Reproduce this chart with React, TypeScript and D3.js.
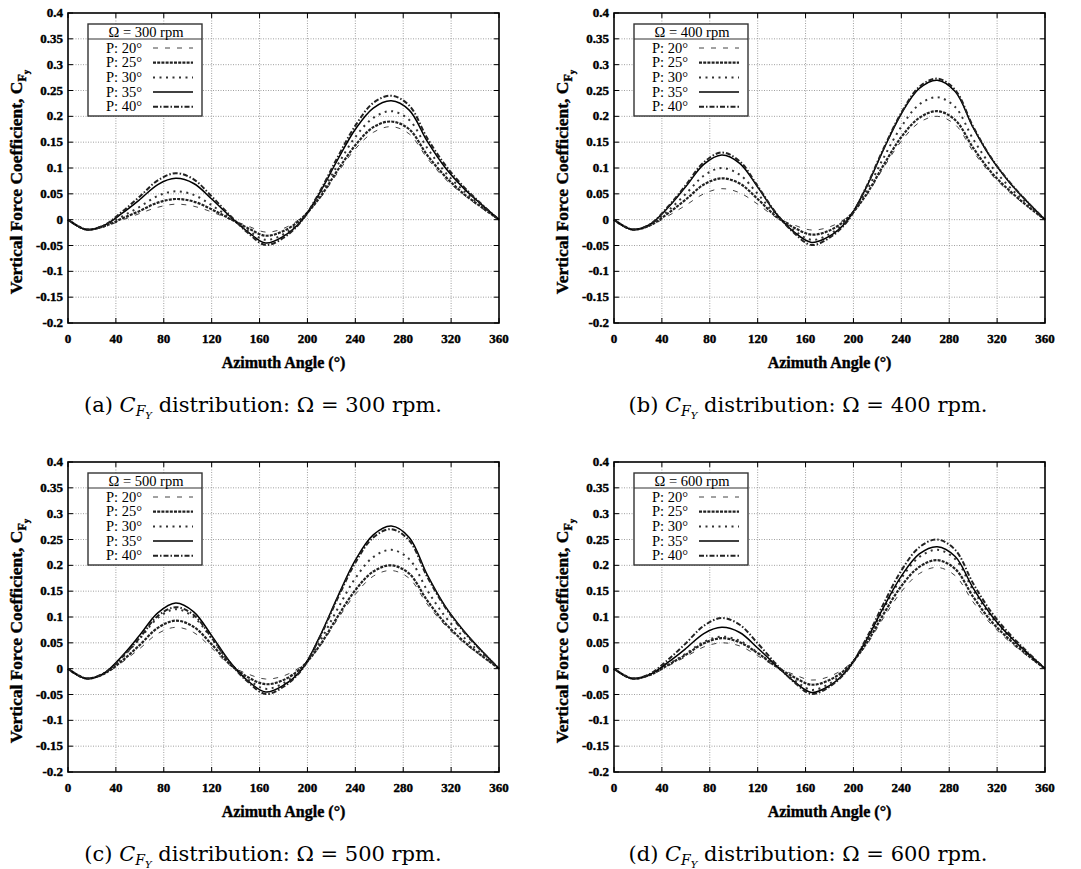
import React from 'react';
import * as d3 from 'd3';

// Azimuth angles (deg) at which values were read
const angles = [0, 15, 30, 45, 60, 75, 90, 105, 120, 135, 150, 165, 180, 195, 210, 225, 240, 255, 270, 285, 300, 315, 330, 345, 360];

const xTicks = [0, 40, 80, 120, 160, 200, 240, 280, 320, 360];
const yTicks = [-0.2, -0.15, -0.1, -0.05, 0, 0.05, 0.1, 0.15, 0.2, 0.25, 0.3, 0.35, 0.4];
const yTickLabels = ['-0.2', '-0.15', '-0.1', '-0.05', '0', '0.05', '0.1', '0.15', '0.2', '0.25', '0.3', '0.35', '0.4'];
const seriesNames = ['P: 20°', 'P: 25°', 'P: 30°', 'P: 35°', 'P: 40°'];

// Ω = 300 rpm
const rpm300_P20 = [0, -0.019, -0.014, -0.001, 0.012, 0.024, 0.03, 0.026, 0.015, 0.001, -0.012, -0.024, -0.017, 0.004, 0.040, 0.090, 0.137, 0.169, 0.18, 0.166, 0.119, 0.079, 0.049, 0.023, 0];
const rpm300_P25 = [0, -0.019, -0.013, 0.002, 0.017, 0.033, 0.04, 0.035, 0.02, 0.002, -0.016, -0.031, -0.022, 0.002, 0.042, 0.095, 0.144, 0.179, 0.19, 0.175, 0.125, 0.084, 0.051, 0.025, 0];
const rpm300_P30 = [0, -0.019, -0.012, 0.006, 0.025, 0.046, 0.055, 0.048, 0.028, 0.004, -0.02, -0.039, -0.028, 0.0, 0.046, 0.105, 0.160, 0.197, 0.21, 0.193, 0.139, 0.092, 0.057, 0.027, 0];
const rpm300_P35 = [0, -0.019, -0.011, 0.012, 0.039, 0.068, 0.08, 0.070, 0.04, 0.007, -0.023, -0.045, -0.032, -0.002, 0.051, 0.115, 0.175, 0.216, 0.23, 0.212, 0.152, 0.101, 0.062, 0.030, 0];
const rpm300_P40 = [0, -0.019, -0.011, 0.015, 0.045, 0.076, 0.09, 0.078, 0.045, 0.009, -0.025, -0.049, -0.035, -0.003, 0.053, 0.12, 0.182, 0.226, 0.24, 0.221, 0.158, 0.106, 0.065, 0.031, 0];

// Ω = 400 rpm
const rpm400_P20 = [0, -0.019, -0.012, 0.007, 0.028, 0.050, 0.06, 0.052, 0.03, 0.005, -0.01, -0.020, -0.014, 0.005, 0.044, 0.1, 0.152, 0.188, 0.2, 0.184, 0.132, 0.088, 0.054, 0.026, 0];
const rpm400_P25 = [0, -0.019, -0.011, 0.012, 0.039, 0.068, 0.08, 0.070, 0.04, 0.007, -0.015, -0.029, -0.021, 0.003, 0.046, 0.105, 0.160, 0.197, 0.21, 0.193, 0.139, 0.092, 0.057, 0.027, 0];
const rpm400_P30 = [0, -0.019, -0.010, 0.017, 0.05, 0.085, 0.1, 0.087, 0.05, 0.01, -0.02, -0.039, -0.028, 0.0, 0.052, 0.119, 0.180, 0.223, 0.237, 0.218, 0.156, 0.104, 0.064, 0.031, 0];
const rpm400_P35 = [0, -0.019, -0.009, 0.023, 0.064, 0.107, 0.125, 0.109, 0.063, 0.013, -0.023, -0.044, -0.032, -0.001, 0.059, 0.135, 0.205, 0.254, 0.27, 0.248, 0.178, 0.119, 0.073, 0.035, 0];
const rpm400_P40 = [0, -0.019, -0.009, 0.025, 0.067, 0.111, 0.13, 0.113, 0.065, 0.014, -0.025, -0.049, -0.035, -0.003, 0.060, 0.137, 0.207, 0.257, 0.273, 0.251, 0.180, 0.120, 0.074, 0.035, 0];

// Ω = 500 rpm
const rpm500_P20 = [0, -0.019, -0.011, 0.012, 0.039, 0.068, 0.08, 0.070, 0.04, 0.007, -0.01, -0.020, -0.014, 0.005, 0.042, 0.095, 0.144, 0.179, 0.19, 0.175, 0.125, 0.084, 0.051, 0.025, 0];
const rpm500_P25 = [0, -0.019, -0.010, 0.015, 0.046, 0.079, 0.093, 0.081, 0.047, 0.009, -0.016, -0.030, -0.022, 0.002, 0.044, 0.1, 0.152, 0.188, 0.2, 0.184, 0.132, 0.088, 0.054, 0.026, 0];
const rpm500_P30 = [0, -0.019, -0.009, 0.021, 0.058, 0.098, 0.115, 0.100, 0.058, 0.012, -0.02, -0.039, -0.028, 0.0, 0.051, 0.115, 0.175, 0.216, 0.23, 0.212, 0.152, 0.101, 0.062, 0.030, 0];
const rpm500_P35 = [0, -0.019, -0.009, 0.024, 0.065, 0.108, 0.127, 0.110, 0.064, 0.014, -0.023, -0.045, -0.032, -0.002, 0.061, 0.138, 0.210, 0.259, 0.276, 0.254, 0.182, 0.121, 0.075, 0.036, 0];
const rpm500_P40 = [0, -0.019, -0.009, 0.022, 0.060, 0.102, 0.119, 0.104, 0.060, 0.012, -0.025, -0.049, -0.035, -0.003, 0.059, 0.135, 0.205, 0.254, 0.27, 0.248, 0.178, 0.119, 0.073, 0.035, 0];

// Ω = 600 rpm
const rpm600_P20 = [0, -0.019, -0.013, 0.005, 0.023, 0.042, 0.05, 0.044, 0.025, 0.004, -0.011, -0.022, -0.015, 0.005, 0.043, 0.098, 0.149, 0.184, 0.196, 0.180, 0.129, 0.086, 0.053, 0.025, 0];
const rpm600_P25 = [0, -0.019, -0.012, 0.007, 0.027, 0.049, 0.059, 0.051, 0.030, 0.005, -0.016, -0.031, -0.022, 0.002, 0.046, 0.105, 0.160, 0.197, 0.21, 0.193, 0.139, 0.092, 0.057, 0.027, 0];
const rpm600_P30 = [0, -0.019, -0.012, 0.008, 0.029, 0.052, 0.062, 0.054, 0.031, 0.005, -0.021, -0.041, -0.029, 0.0, 0.051, 0.115, 0.175, 0.216, 0.23, 0.212, 0.152, 0.101, 0.062, 0.030, 0];
const rpm600_P35 = [0, -0.019, -0.011, 0.012, 0.039, 0.068, 0.08, 0.070, 0.04, 0.007, -0.024, -0.046, -0.033, -0.002, 0.052, 0.118, 0.179, 0.222, 0.236, 0.217, 0.156, 0.104, 0.064, 0.031, 0];
const rpm600_P40 = [0, -0.019, -0.010, 0.017, 0.049, 0.083, 0.098, 0.085, 0.049, 0.010, -0.025, -0.049, -0.035, -0.003, 0.055, 0.125, 0.19, 0.235, 0.25, 0.23, 0.165, 0.11, 0.068, 0.033, 0];

const panels = [
  { label: '(a)', rpm: '300', col: 0, row: 0, series: [rpm300_P20, rpm300_P25, rpm300_P30, rpm300_P35, rpm300_P40] },
  { label: '(b)', rpm: '400', col: 1, row: 0, series: [rpm400_P20, rpm400_P25, rpm400_P30, rpm400_P35, rpm400_P40] },
  { label: '(c)', rpm: '500', col: 0, row: 1, series: [rpm500_P20, rpm500_P25, rpm500_P30, rpm500_P35, rpm500_P40] },
  { label: '(d)', rpm: '600', col: 1, row: 1, series: [rpm600_P20, rpm600_P25, rpm600_P30, rpm600_P35, rpm600_P40] },
];

const lineStyles = [
  { width: 1, dash: '5,7', color: '#444' },
  { width: 2.2, dash: '3,1.2', color: '#222' },
  { width: 2, dash: '2,4.5', color: '#333' },
  { width: 1.5, dash: 'none', color: '#000' },
  { width: 2, dash: '5,2,1.5,2', color: '#222' },
];

const W = 431;
const H = 310;
const serif = 'Liberation Serif, serif';
// faux-bold style for the gnuplot Times-Bold labels
const boldProps = { fontFamily: serif, fontWeight: 'bold', fill: '#000', stroke: '#000', strokeWidth: 0.4 };

function Panel({ p }: { p: typeof panels[number] }) {
  const ox = p.col === 0 ? 68 : 614;
  const oy = p.row === 0 ? 13 : 462;
  const x = d3.scaleLinear().domain([0, 360]).range([0, W]);
  const y = d3.scaleLinear().domain([-0.2, 0.4]).range([H, 0]);
  const line = d3
    .line<[number, number]>()
    .x((d) => x(d[0]))
    .y((d) => y(d[1]))
    .curve(d3.curveCatmullRom.alpha(0.5));

  const lx = 20;
  const ly = 11;
  const lw = 114;
  const lh = 92;
  const capX = (p.col === 0 ? 263 : 808) - ox;

  return (
    <g transform={`translate(${ox},${oy})`}>
      {/* grid */}
      {xTicks.slice(1, -1).map((t) => (
        <line key={'gx' + t} x1={x(t)} x2={x(t)} y1={0} y2={H} stroke="#888" strokeWidth={0.8} strokeDasharray="1,1.5" />
      ))}
      {yTicks.slice(1, -1).map((t) => (
        <line key={'gy' + t} x1={0} x2={W} y1={y(t)} y2={y(t)} stroke="#888" strokeWidth={0.8} strokeDasharray="1,1.5" />
      ))}
      {/* ticks */}
      {xTicks.map((t) => (
        <g key={'tx' + t}>
          <line x1={x(t)} x2={x(t)} y1={H} y2={H - 5} stroke="#000" strokeWidth={1} />
          <line x1={x(t)} x2={x(t)} y1={0} y2={5} stroke="#000" strokeWidth={1} />
          <text x={x(t)} y={H + 20} textAnchor="middle" fontSize={13} {...boldProps}>
            {t}
          </text>
        </g>
      ))}
      {yTicks.map((t, i) => (
        <g key={'ty' + t}>
          <line x1={0} x2={5} y1={y(t)} y2={y(t)} stroke="#000" strokeWidth={1} />
          <line x1={W} x2={W - 5} y1={y(t)} y2={y(t)} stroke="#000" strokeWidth={1} />
          <text x={-5} y={y(t) + 4} textAnchor="end" fontSize={13} {...boldProps}>
            {yTickLabels[i]}
          </text>
        </g>
      ))}
      {/* curves */}
      <g>
        {p.series.map((vals, si) => (
          <path
            key={'s' + si}
            d={line(angles.map((a, k) => [a, vals[k]] as [number, number])) || ''}
            fill="none"
            stroke={lineStyles[si].color}
            strokeWidth={lineStyles[si].width}
            strokeDasharray={lineStyles[si].dash}
          />
        ))}
      </g>
      {/* frame */}
      <rect x={0} y={0} width={W} height={H} fill="none" stroke="#000" strokeWidth={1.6} />
      {/* legend */}
      <g transform={`translate(${lx},${ly})`}>
        <rect x={0} y={0} width={lw} height={lh} fill="#fff" stroke="#333" strokeWidth={1.4} />
        <line x1={0} x2={lw} y1={15} y2={15} stroke="#333" strokeWidth={1.2} />
        <text x={lw / 2 + 1} y={12.5} textAnchor="middle" fontFamily={serif} fontSize={14.5}>
          {`Ω = ${p.rpm} rpm`}
        </text>
        {seriesNames.map((n, si) => {
          const yy = 24 + si * 14.7;
          return (
            <g key={'l' + si}>
              <text x={18} y={yy + 4.5} fontFamily={serif} fontSize={14.5}>
                {n}
              </text>
              <line
                x1={65}
                x2={105}
                y1={yy}
                y2={yy}
                stroke={lineStyles[si].color}
                strokeWidth={lineStyles[si].width}
                strokeDasharray={lineStyles[si].dash}
              />
            </g>
          );
        })}
      </g>
      {/* axis titles */}
      <text x={W / 2} y={H + 45} textAnchor="middle" fontSize={16} {...boldProps}>
        Azimuth Angle (°)
      </text>
      <text transform={`translate(${-46},${169}) rotate(-90)`} textAnchor="middle" fontSize={17.5} {...boldProps}>
        Vertical Force Coefficient, C
        <tspan fontSize={12} dy={4}>F</tspan>
        <tspan fontSize={9} dy={3}>y</tspan>
      </text>
      {/* caption */}
      <text x={capX} y={H + 89} textAnchor="middle" fontFamily="DejaVu Serif, serif" fontSize={21}>
        {p.label + ' '}
        <tspan fontStyle="italic">C</tspan>
        <tspan fontStyle="italic" fontSize={14} dy={4}>F</tspan>
        <tspan fontStyle="italic" fontSize={10} dy={3}>Y</tspan>
        <tspan dy={-7}>{` distribution: Ω = ${p.rpm} rpm.`}</tspan>
      </text>
    </g>
  );
}

export default function App() {
  return (
    <svg width={1081} height={869} style={{ position: 'absolute', left: 0, top: 0, background: '#fff' }}>
      <rect width={1081} height={869} fill="#fff" />
      {panels.map((p) => (
        <Panel key={p.label} p={p} />
      ))}
    </svg>
  );
}
